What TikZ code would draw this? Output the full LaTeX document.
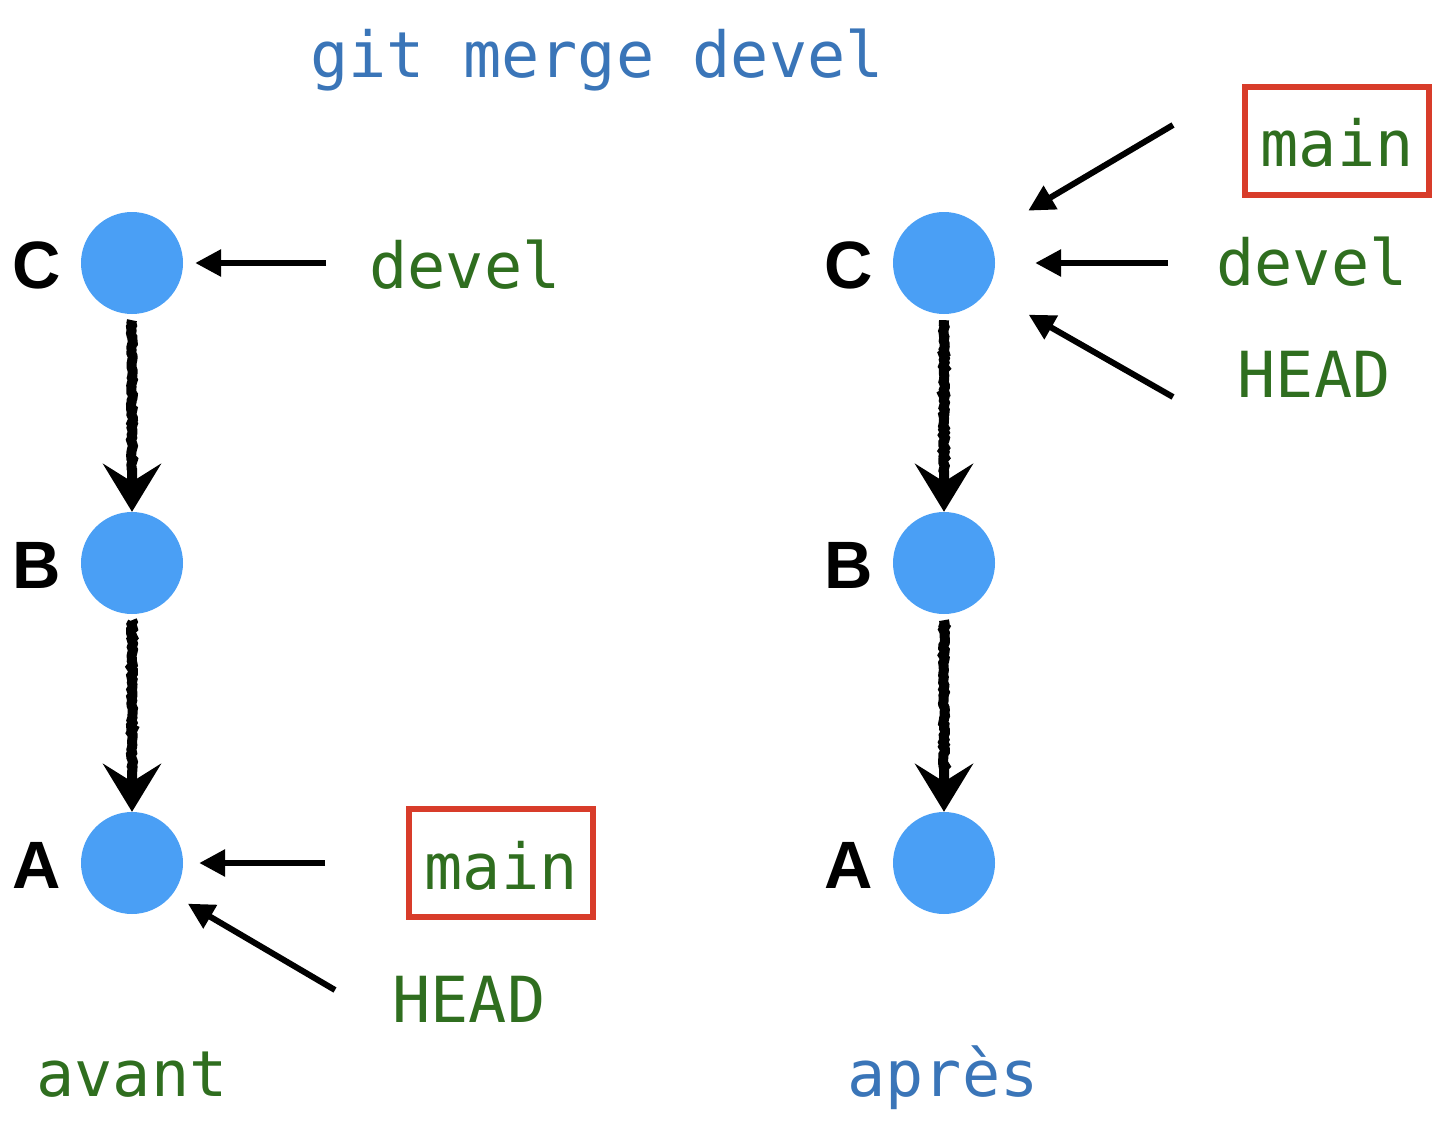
\documentclass[tikz,border=0pt]{standalone}
\usepackage{fontspec}
\usepackage{xcolor}
\usepackage{tikz}
\usetikzlibrary{arrows.meta, positioning, decorations.pathmorphing}
\newfontfamily\codefont{DejaVu Sans Mono}
\newfontfamily\shafont{Liberation Sans}
\definecolor{commitblue}{RGB}{74,159,245}
\definecolor{cmdblue}{RGB}{58,117,184}
\definecolor{refgreen}{RGB}{47,110,31}
\definecolor{boxred}{RGB}{216,60,42}

\begin{document}
\begin{tikzpicture}[x=1pt, y=-1pt]
\tikzstyle{commit} = [circle, fill=commitblue, minimum size=102pt, inner sep=0pt]
\tikzstyle{sha} = [font=\shafont\bfseries\fontsize{67}{67}\selectfont, inner sep=0pt, anchor=base]
\tikzstyle{ref} = [font=\codefont\fontsize{63.5}{63.5}\selectfont, text=refgreen, inner sep=0pt, anchor=base]
\tikzstyle{current} = [ref, draw=boxred, line width=6pt, text height=52pt, text depth=0pt, inner xsep=15.5pt, inner ysep=28pt]
\tikzstyle{ptr} = [line width=6pt, -{Triangle[length=26pt, width=26pt]}]
\tikzstyle{parent} = [line width=10pt, decorate, decoration={random steps, segment length=2.5pt, amplitude=1pt, pre=moveto, pre length=6pt, post length=40pt}, -{Stealth[length=48pt, width=58pt, inset=18pt]}]

\useasboundingbox (0,0) rectangle (1434,1126);

\node (title) [ref, text=cmdblue] at (597,78) {git merge devel};

% avant
\node (C1) [commit] at (132,263) {};
\node (B1) [commit] at (132,563) {};
\node (A1) [commit] at (132,863) {};
\node (labC1) [sha] at (37,288) {C};
\node (labB1) [sha] at (37,588) {B};
\node (labA1) [sha] at (37,888) {A};

\node (develA) [ref] at (465,288) {devel};
\node (mainA) [current] at (501,889) {main};
\node (headA) [ref] at (469,1022) {HEAD};
\node (avant) [ref] at (132,1096) {avant};

\coordinate (tDevelA) at (326,263);
\coordinate (tMainA) at (325,863);
\coordinate (tHeadA) at (335,990);
\draw [ptr, shorten >=12pt] (tDevelA) -- (C1);
\draw [ptr, shorten >=16pt] (tMainA) -- (A1);
\draw [ptr, shorten >=18pt] (tHeadA) -- (A1.-38);

% apres
\node (C2) [commit] at (944,263) {};
\node (B2) [commit] at (944,563) {};
\node (A2) [commit] at (944,863) {};
\node (labC2) [sha] at (849,288) {C};
\node (labB2) [sha] at (849,588) {B};
\node (labA2) [sha] at (849,888) {A};

\node (mainB) [current] at (1337,167) {main};
\node (develB) [ref] at (1312,285) {devel};
\node (headB) [ref] at (1314,397) {HEAD};
\node (apres) [ref, text=cmdblue] at (943,1096) {après};

\coordinate (tMainB) at (1173,125);
\coordinate (tDevelB) at (1168,263);
\coordinate (tHeadB) at (1173,397);
\draw [ptr, shorten >=48pt] (tMainB) -- (C2.33);
\draw [ptr, shorten >=40pt] (tDevelB) -- (C2);
\draw [ptr, shorten >=48pt] (tHeadB) -- (C2.-33);

\foreach \a/\b in {C1/B1, B1/A1, C2/B2, B2/A2}
  \draw [parent] (\a) -- (\b);
\end{tikzpicture}
\end{document}
